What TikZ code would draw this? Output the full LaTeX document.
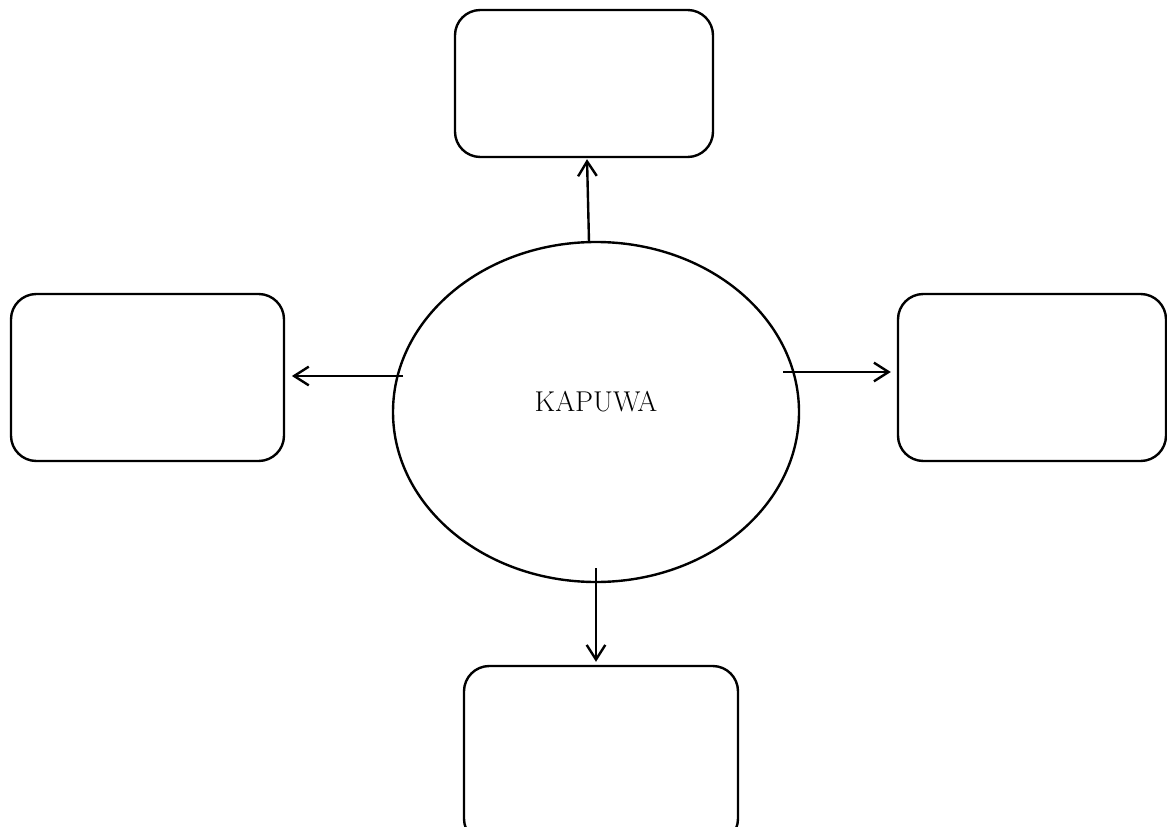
\documentclass[tikz,border=0pt]{standalone}
\usetikzlibrary{arrows.meta,shapes.geometric}
\begin{document}
\begin{tikzpicture}[x=0.75pt,y=-0.75pt,
  box/.style={draw, line width=1.8pt, rounded corners=19pt, inner sep=0pt},
  hub/.style={draw, ellipse, line width=1.8pt, inner sep=0pt},
  arr/.style={line width=1.8pt, -{Straight Barb[length=11pt,width=14pt,line width=1.8pt]}}]
\useasboundingbox (0,0) rectangle (1167,827);
\clip (0,0) rectangle (1167,827);
\node[hub, minimum width=406*0.75pt, minimum height=340*0.75pt] (ell) at (596,412) {};
\node[font=\fontsize{21.5}{26}\selectfont] (lab) at (596,402) {KAPUWA};
\node[box, minimum width=258*0.75pt, minimum height=147*0.75pt] (top) at (584,83.5) {};
\node[box, minimum width=273*0.75pt, minimum height=167*0.75pt] (left) at (147.5,377.5) {};
\node[box, minimum width=268*0.75pt, minimum height=167*0.75pt] (right) at (1032,377.5) {};
\node[box, minimum width=274*0.75pt, minimum height=178*0.75pt] (bottom) at (601,755) {};
\coordinate (aT) at (589,242);
\coordinate (aL) at (403,376);
\coordinate (aR) at (783,372);
\coordinate (aB) at (596,568);
\draw[arr, shorten >=0.75pt] (aT) -- ([xshift=2.25pt]top.south);
\draw[arr, shorten >=5pt] (aL) -- (aL -| left.east);
\draw[arr, shorten >=4.5pt] (aR) -- (aR -| right.west);
\draw[arr, shorten >=2.25pt] (aB) -- (aB |- bottom.north);
\end{tikzpicture}
\end{document}
